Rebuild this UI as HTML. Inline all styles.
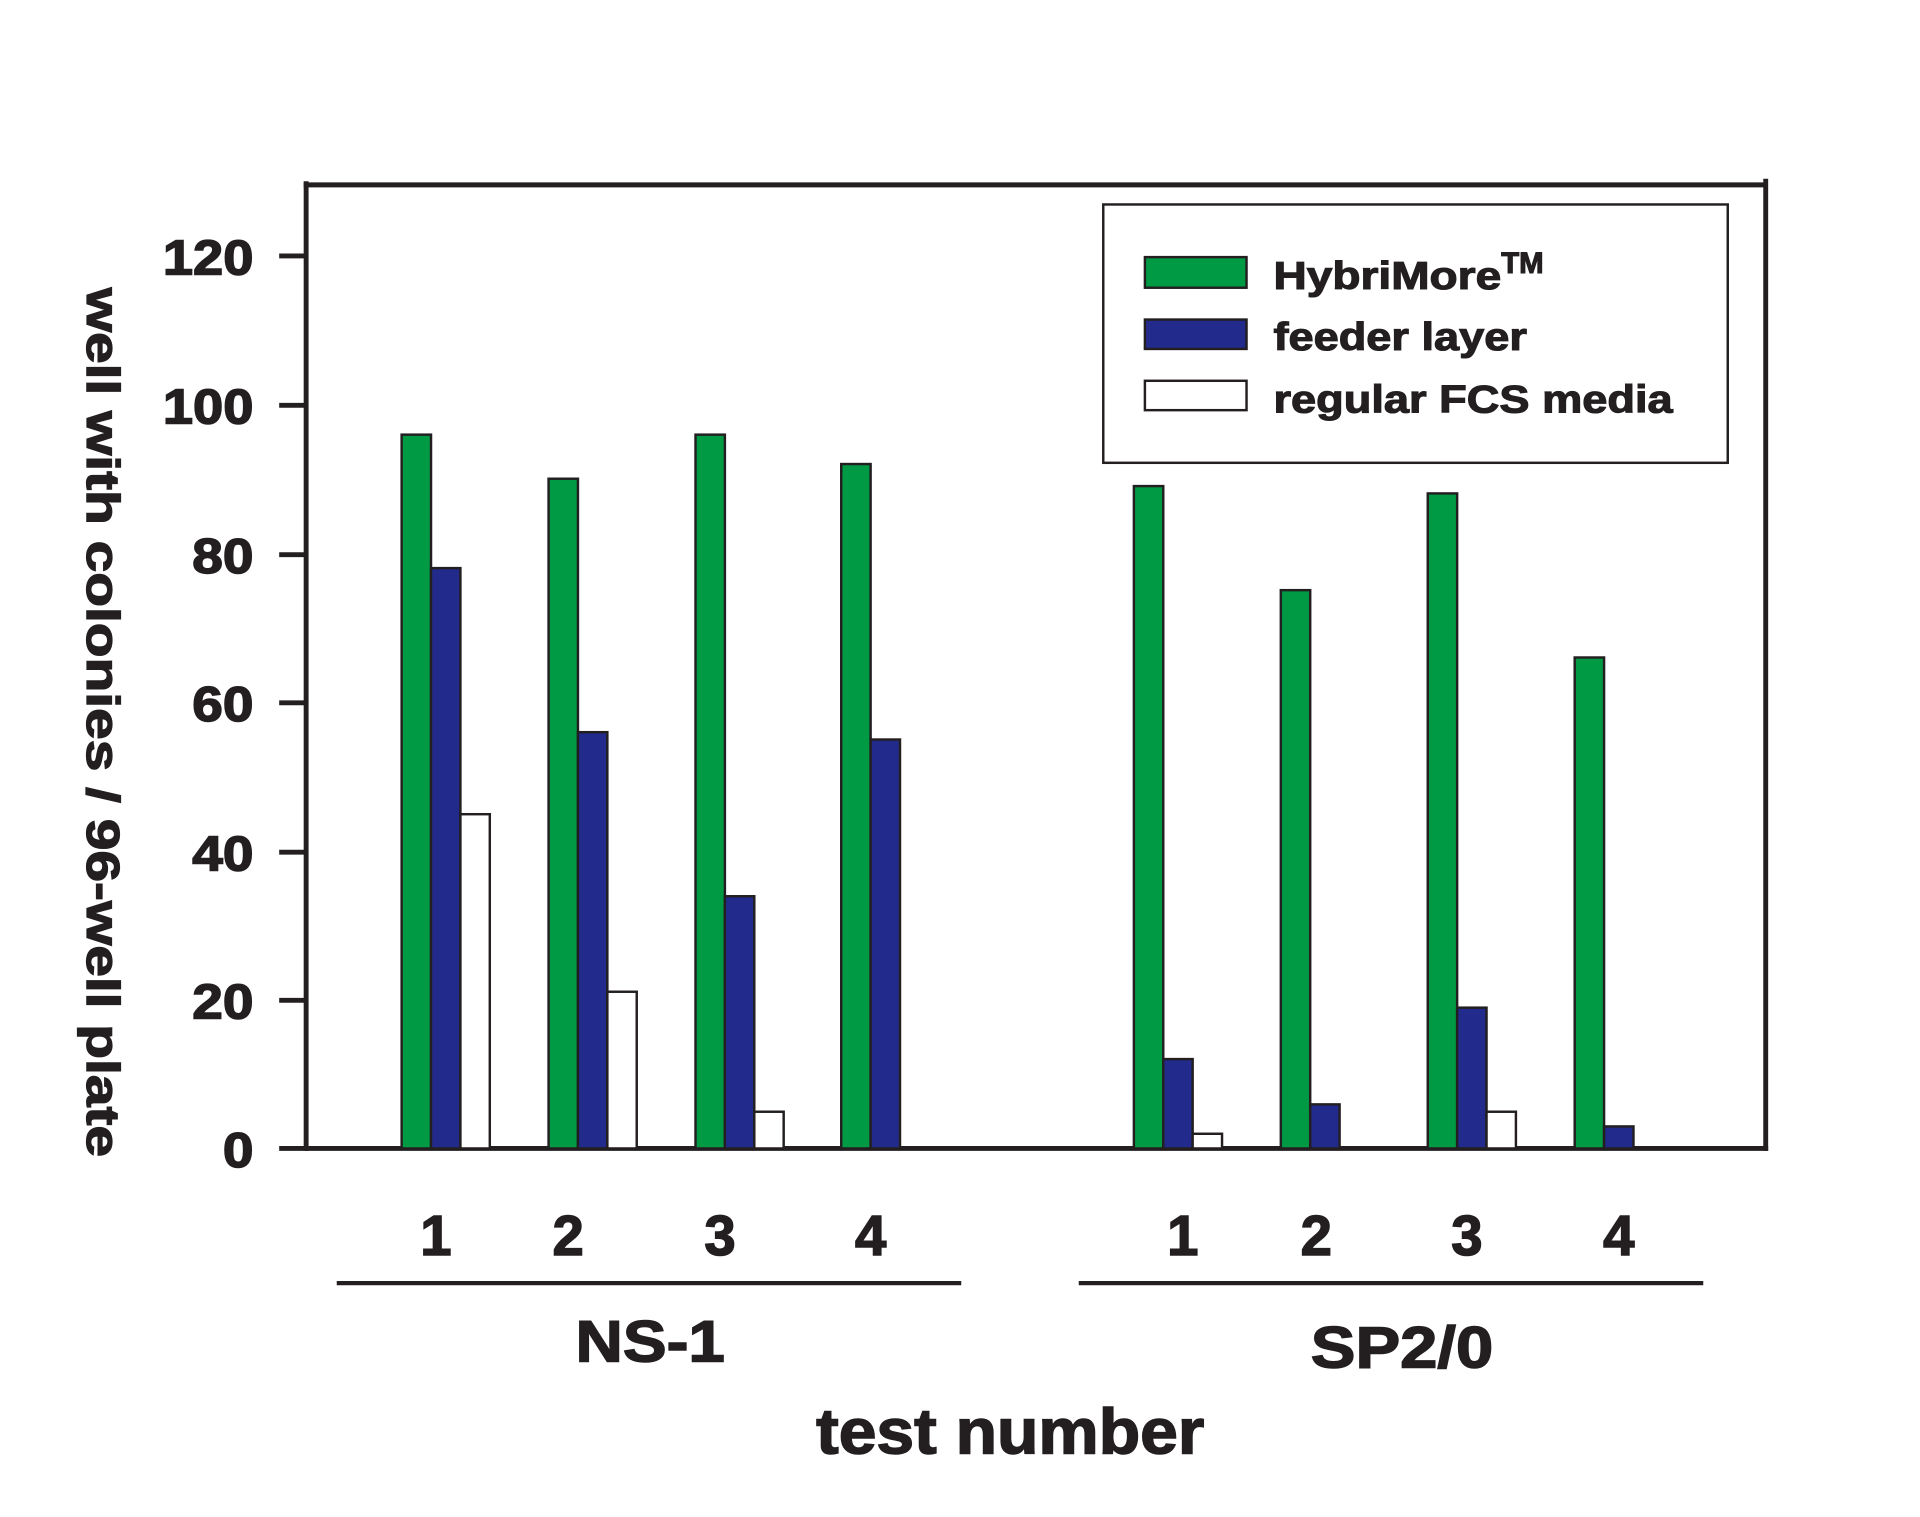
<!DOCTYPE html>
<html><head><style>html,body{margin:0;padding:0;background:#fff}svg{display:block}</style></head><body>
<svg width="1920" height="1517" viewBox="0 0 1568 1239" preserveAspectRatio="none" xmlns="http://www.w3.org/2000/svg" font-family="Liberation Sans, Arial, sans-serif" font-weight="bold" fill="#231f20">
<g stroke="#231f20" stroke-width="4" fill="none">
<line x1="250" y1="148" x2="250" y2="940"/>
<line x1="248" y1="151" x2="1442" y2="151"/>
<line x1="1442" y1="146" x2="1442" y2="940"/>
<line x1="228" y1="938" x2="1444" y2="938"/>
<line x1="228" y1="209" x2="250" y2="209"/>
<line x1="228" y1="331" x2="250" y2="331"/>
<line x1="228" y1="453" x2="250" y2="453"/>
<line x1="228" y1="574" x2="250" y2="574"/>
<line x1="228" y1="696" x2="250" y2="696"/>
<line x1="228" y1="817" x2="250" y2="817"/>
<line x1="275" y1="1048" x2="785" y2="1048" stroke-width="3.5"/>
<line x1="881" y1="1048" x2="1391" y2="1048" stroke-width="3.5"/>
</g>
<g font-size="40" text-anchor="end" stroke="#231f20" stroke-width="1.2" lengthAdjust="spacingAndGlyphs">
<text x="207" y="224" textLength="74" lengthAdjust="spacingAndGlyphs">120</text><text x="207" y="346" textLength="74" lengthAdjust="spacingAndGlyphs">100</text><text x="207" y="468" textLength="50" lengthAdjust="spacingAndGlyphs">80</text>
<text x="207" y="589" textLength="50" lengthAdjust="spacingAndGlyphs">60</text><text x="207" y="711" textLength="50" lengthAdjust="spacingAndGlyphs">40</text><text x="207" y="832" textLength="50" lengthAdjust="spacingAndGlyphs">20</text><text x="207" y="953" textLength="25" lengthAdjust="spacingAndGlyphs">0</text>
</g>
<text transform="translate(71,590) rotate(90)" font-size="38" text-anchor="middle" stroke="#231f20" stroke-width="1" textLength="710" lengthAdjust="spacingAndGlyphs">well with colonies / 96-well plate</text>
<g stroke="#231f20" stroke-width="2">
<rect x="328" y="355" width="24" height="583" fill="#009a44"/>
<rect x="352" y="464" width="24" height="474" fill="#222b8c"/>
<rect x="376" y="665" width="24" height="273" fill="#fff"/>
<rect x="448" y="391" width="24" height="547" fill="#009a44"/>
<rect x="472" y="598" width="24" height="340" fill="#222b8c"/>
<rect x="496" y="810" width="24" height="128" fill="#fff"/>
<rect x="568" y="355" width="24" height="583" fill="#009a44"/>
<rect x="592" y="732" width="24" height="206" fill="#222b8c"/>
<rect x="616" y="908" width="24" height="30" fill="#fff"/>
<rect x="687" y="379" width="24" height="559" fill="#009a44"/>
<rect x="711" y="604" width="24" height="334" fill="#222b8c"/>
<rect x="926" y="397" width="24" height="541" fill="#009a44"/>
<rect x="950" y="865" width="24" height="73" fill="#222b8c"/>
<rect x="974" y="926" width="24" height="12" fill="#fff"/>
<rect x="1046" y="482" width="24" height="456" fill="#009a44"/>
<rect x="1070" y="902" width="24" height="36" fill="#222b8c"/>
<rect x="1166" y="403" width="24" height="535" fill="#009a44"/>
<rect x="1190" y="823" width="24" height="115" fill="#222b8c"/>
<rect x="1214" y="908" width="24" height="30" fill="#fff"/>
<rect x="1286" y="537" width="24" height="401" fill="#009a44"/>
<rect x="1310" y="920" width="24" height="18" fill="#222b8c"/>
<rect x="901" y="167" width="510" height="211" fill="#fff"/>
<rect x="935" y="210" width="83" height="25" fill="#009a44"/>
<rect x="935" y="261" width="83" height="24" fill="#222b8c"/>
<rect x="935" y="311" width="83" height="24" fill="#fff"/>
</g>
<g font-size="32" stroke="#231f20" stroke-width="0.9">
<text x="1040" y="236"><tspan textLength="186" lengthAdjust="spacingAndGlyphs">HybriMore</tspan><tspan font-size="24" dy="-13">TM</tspan></text>
<text x="1040" y="286" textLength="207" lengthAdjust="spacingAndGlyphs">feeder layer</text>
<text x="1040" y="337" textLength="326" lengthAdjust="spacingAndGlyphs">regular FCS media</text>
</g>
<g font-size="46" text-anchor="middle" stroke="#231f20" stroke-width="1.2">
<text x="356" y="1025">1</text><text x="464" y="1025">2</text><text x="588" y="1025">3</text><text x="711" y="1025">4</text>
<text x="966" y="1025">1</text><text x="1075" y="1025">2</text><text x="1198" y="1025">3</text><text x="1322" y="1025">4</text>
</g>
<g font-size="48" text-anchor="middle" stroke="#231f20" stroke-width="1.2">
<text x="531" y="1112" textLength="122" lengthAdjust="spacingAndGlyphs">NS-1</text><text x="1145" y="1117" textLength="149" lengthAdjust="spacingAndGlyphs">SP2/0</text>
</g>
<text x="825" y="1187" font-size="52" text-anchor="middle" stroke="#231f20" stroke-width="1.2" textLength="317" lengthAdjust="spacingAndGlyphs">test number</text>
</svg>
</body></html>
